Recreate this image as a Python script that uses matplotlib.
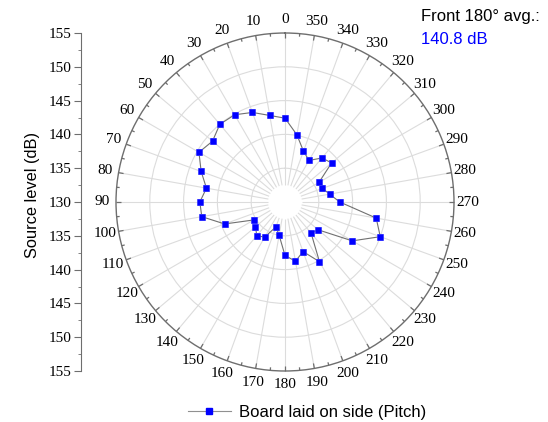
import numpy as np
import matplotlib.pyplot as plt
from matplotlib.lines import Line2D

# source level vs. angle, board laid on side (pitch)
angles = np.arange(0, 360, 10)
levels = [142.4, 143.0, 144.1, 144.9, 145.0, 144.0, 144.7, 143.2, 141.8, 142.6,
          142.5, 139.5, 135.3, 135.7, 136.5, 136.0, 133.9, 135.0, 137.9, 138.9,
          137.8, 140.2, 136.0, 136.4, 141.5, 145.0, 143.7, 138.1, 136.7, 135.9,
          135.8, 139.0, 138.5, 137.1, 138.0, 140.1]
series_name = 'Board laid on side (Pitch)'
avg_label = 'Front 180\u00b0 avg.:'
avg_value = '140.8 dB'
r_min, r_max = 130, 155
ring_levels = [135, 140, 145, 150]
scale_ticks = [155, 150, 145, 140, 135, 130, 135, 140, 145, 150, 155]

serif = 'Liberation Serif'
sans = 'Liberation Sans'
grid_c = '#dcdcdc'
axis_c = '#6e6e6e'

fig = plt.figure(figsize=(5.48, 4.22), dpi=100)
ax = fig.add_axes([116 / 548, 51 / 422, 338 / 548, 338 / 422], projection='polar')
ax.set_theta_zero_location('N')
ax.set_theta_direction(1)
ax.set_rlim(r_min, r_max)
ax.set_rgrids(ring_levels, labels=[])
ax.yaxis.grid(True, color=grid_c, lw=0.8)
ax.xaxis.grid(False)

th = np.deg2rad(angles)
ax.vlines(th, r_min + 2.5, r_max, color=grid_c, lw=0.8, zorder=1)
ax.set_xticks(th)
ax.set_xticklabels([str(a) for a in angles], fontfamily=serif, fontsize=11)
ax.tick_params(axis='x', which='major', length=0, pad=3)
# inward ticks on the outer ring
th_minor = np.deg2rad(np.arange(5, 360, 10))
ax.vlines(th, r_max - 0.75, r_max, color=axis_c, lw=0.9, zorder=2, clip_on=False)
ax.vlines(th_minor, r_max - 0.45, r_max, color=axis_c, lw=0.9, zorder=2, clip_on=False)
ax.spines['polar'].set_color(axis_c)
ax.spines['polar'].set_linewidth(1.0)

# closed loop
th_c = np.append(th, th[0])
lv_c = np.append(levels, levels[0])
ax.plot(th_c, lv_c, color='#707070', lw=0.8, zorder=3)
ax.plot(th, levels, ls='none', marker='s', ms=4.6, color='blue',
        markeredgecolor='#3030ff', markeredgewidth=0.5, zorder=4)

# left scale
ax2 = fig.add_axes([81 / 548, 51 / 422, 0.0001, 338 / 422])
ax2.set_ylim(-25, 25)
ax2.set_yticks(np.arange(-25, 26, 5))
ax2.set_yticklabels([str(v) for v in scale_ticks], fontfamily=serif, fontsize=11)
ax2.set_yticks(np.arange(-22.5, 25, 5), minor=True)
ax2.set_xticks([])
for s in ['top', 'right', 'bottom']:
    ax2.spines[s].set_visible(False)
ax2.spines['left'].set_color(axis_c)
ax2.tick_params(axis='y', which='major', length=5, color=axis_c, pad=2)
ax2.tick_params(axis='y', which='minor', length=2.5, color=axis_c)

fig.text(32 / 548, 1 - 195 / 422, 'Source level (dB)', fontfamily=sans, fontsize=11.8,
         rotation=90, ha='center', va='center')

fig.text(421 / 548, 1 - 16 / 422, avg_label, fontfamily=sans, fontsize=12, va='center')
fig.text(421 / 548, 1 - 39 / 422, avg_value, fontfamily=sans, fontsize=12,
         va='center', color='blue')

h = Line2D([], [], color='#909090', lw=0.8, marker='s', ms=4.6, mfc='blue', mec='blue')
fig.legend(handles=[h], labels=[series_name], loc='center',
           bbox_to_anchor=(307 / 548, 1 - 412 / 422), frameon=False,
           prop={'family': sans, 'size': 12}, handlelength=2.6, handletextpad=0.5)

fig.savefig('out.png', dpi=100)
